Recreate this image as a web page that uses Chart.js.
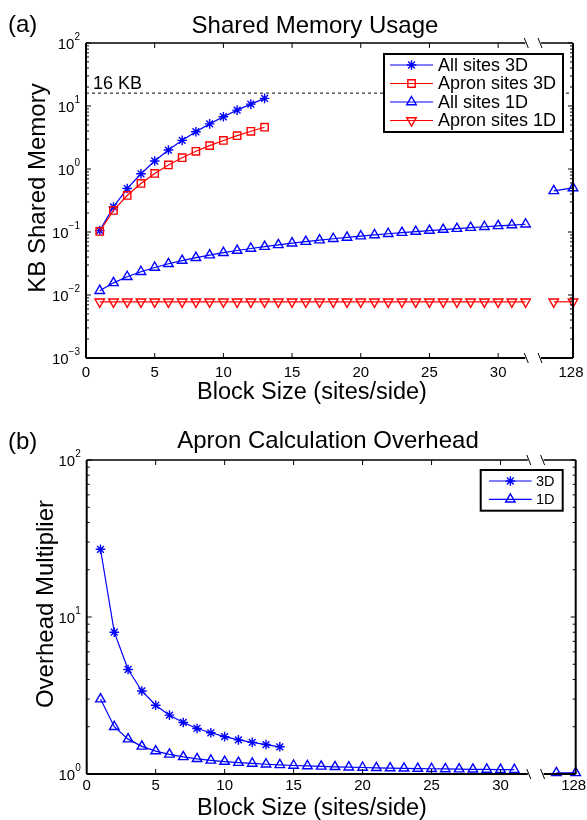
<!DOCTYPE html>
<html>
<head>
<meta charset="utf-8">
<script src="https://cdn.jsdelivr.net/npm/chart.js@4.4.1/dist/chart.umd.min.js"></script>
<style>
  body { margin: 0; background: #fff; }
  canvas { display: block; }
</style>
</head>
<body>
<canvas id="memChart" width="587" height="410"></canvas>
<canvas id="overheadChart" width="587" height="410"></canvas>
<script>
// (a) shared memory, KB
const memSizes3D = [1, 2, 3, 4, 5, 6, 7, 8, 9, 10, 11, 12, 13];
const memAll3D = [0.105, 0.25, 0.49, 0.84, 1.34, 2.0, 2.85, 3.9, 5.2, 6.75, 8.6, 10.7, 13.2];
const memApron3D = [0.102, 0.22, 0.38, 0.59, 0.85, 1.16, 1.51, 1.91, 2.35, 2.84, 3.38, 3.97, 4.6];
const memSizes1D = [1, 2, 3, 4, 5, 6, 7, 8, 9, 10, 11, 12, 13, 14, 15, 16,
  17, 18, 19, 20, 21, 22, 23, 24, 25, 26, 27, 28, 29, 30, 31, 32];
const memAll1D = [0.0117, 0.0156, 0.0195, 0.0234, 0.0273, 0.0313, 0.0352, 0.0391,
  0.043, 0.0469, 0.0508, 0.0547, 0.0586, 0.0625, 0.0664, 0.0703,
  0.0742, 0.0781, 0.082, 0.0859, 0.0898, 0.0938, 0.0977, 0.1016,
  0.1055, 0.1094, 0.1133, 0.1172, 0.1211, 0.125, 0.1289, 0.1328];
const memApron1D = [0.0078, 0.0078, 0.0078, 0.0078, 0.0078, 0.0078, 0.0078, 0.0078,
  0.0078, 0.0078, 0.0078, 0.0078, 0.0078, 0.0078, 0.0078, 0.0078,
  0.0078, 0.0078, 0.0078, 0.0078, 0.0078, 0.0078, 0.0078, 0.0078,
  0.0078, 0.0078, 0.0078, 0.0078, 0.0078, 0.0078, 0.0078, 0.0078];
const farSizes = [112, 128];
const memAll1DFar = [0.45, 0.5];
const memApron1DFar = [0.0078, 0.0078];
const sharedLimitKB = 16;

// (b) apron overhead multiplier
const ovhSizes3D = [1, 2, 3, 4, 5, 6, 7, 8, 9, 10, 11, 12, 13, 14];
const ovh3D = [27, 8, 4.63, 3.38, 2.74, 2.37, 2.13, 1.95, 1.83, 1.73, 1.65, 1.59, 1.54, 1.49];
const ovhSizes1D = [1, 2, 3, 4, 5, 6, 7, 8, 9, 10, 11, 12, 13, 14, 15, 16,
  17, 18, 19, 20, 21, 22, 23, 24, 25, 26, 27, 28, 29, 30, 31];
const ovh1D = [3, 2, 1.667, 1.5, 1.4, 1.333, 1.286, 1.25, 1.222, 1.2, 1.182, 1.167,
  1.154, 1.143, 1.133, 1.125, 1.118, 1.111, 1.105, 1.1, 1.095, 1.091, 1.087,
  1.083, 1.08, 1.077, 1.074, 1.071, 1.069, 1.067, 1.065];
const ovh1DFar = [1.018, 1.016];

const xTickValues = [0, 5, 10, 15, 20, 25, 30];
const xEndLabel = "128";

// broken x axis: 0..32 linear, then a short segment holding the large blocks
const FAR_FROM = 100, FAR_POS = 33.0, X_END = 35.45;
const BREAK_AT = [32.05, 33.05];

function axisX(size) {
  if (size <= 32) return size;
  return FAR_POS + (size - FAR_FROM) * (X_END - FAR_POS) / (128 - FAR_FROM);
}

function series(sizes, values) {
  return sizes.map((s, i) => ({ x: axisX(s), y: values[i] }));
}

const FONT = '"Liberation Sans", Arial, Helvetica, sans-serif';
const BLUE = "#0000ff";
const RED = "#ff0000";
const MARK_W = 1.4;

function markerSet(color, style, rotation, radius) {
  return {
    borderColor: color,
    pointBorderColor: color,
    pointBackgroundColor: "rgba(0,0,0,0)",
    pointStyle: style,
    pointRotation: rotation || 0,
    pointRadius: radius || 5.5,
    pointBorderWidth: MARK_W,
    borderWidth: 1.2,
    tension: 0,
    clip: false
  };
}

function drawSupLabel(ctx, exp, right, yMid) {
  const sup = exp < 0 ? "\u2212" + (-exp) : String(exp);
  ctx.font = "10px " + FONT;
  const ws = ctx.measureText(sup).width;
  ctx.font = "15px " + FONT;
  const wb = ctx.measureText("10").width;
  ctx.textAlign = "left";
  ctx.textBaseline = "alphabetic";
  ctx.fillText("10", right - ws - wb, yMid + 5.5);
  ctx.font = "10px " + FONT;
  ctx.fillText(sup, right - ws, yMid - 3);
}

function drawLegend(ctx, lg) {
  ctx.save();
  ctx.fillStyle = "#fff";
  ctx.fillRect(lg.box[0], lg.box[1], lg.box[2] - lg.box[0], lg.box[3] - lg.box[1]);
  ctx.strokeStyle = "#000";
  ctx.lineWidth = 2;
  ctx.strokeRect(lg.box[0], lg.box[1], lg.box[2] - lg.box[0], lg.box[3] - lg.box[1]);
  lg.items.forEach((it, i) => {
    const y = lg.rows[i];
    ctx.strokeStyle = it.color;
    ctx.lineWidth = 1.2;
    ctx.beginPath();
    ctx.moveTo(lg.line[0], y);
    ctx.lineTo(lg.line[1], y);
    ctx.stroke();
    ctx.fillStyle = "rgba(0,0,0,0)";
    ctx.lineWidth = MARK_W;
    Chart.helpers.drawPoint(ctx, {
      pointStyle: it.style, rotation: it.rotation || 0,
      radius: it.radius || 5.5, borderWidth: MARK_W
    }, (lg.line[0] + lg.line[1]) / 2, y);
    ctx.fillStyle = "#000";
    ctx.font = lg.font + "px " + FONT;
    ctx.textAlign = "left";
    ctx.textBaseline = "middle";
    ctx.fillText(it.label, lg.textX, y + 1);
  });
  ctx.restore();
}

const frame = {
  id: "frame",
  afterDraw(chart, args, o) {
    const ctx = chart.ctx;
    const a = chart.chartArea;
    const xs = chart.scales.x;
    const ys = chart.scales.y;
    const px = v => xs.getPixelForValue(v);
    const py = v => ys.getPixelForValue(v);
    const cut1 = px(BREAK_AT[0]);
    const cut2 = px(BREAK_AT[1]);

    ctx.save();
    ctx.strokeStyle = "#000";
    ctx.lineWidth = 2;
    ctx.beginPath();
    ctx.moveTo(a.left, a.top); ctx.lineTo(a.left, a.bottom);
    ctx.moveTo(a.right, a.top); ctx.lineTo(a.right, a.bottom);
    ctx.moveTo(a.left, a.bottom); ctx.lineTo(cut1 - 1, a.bottom);
    ctx.moveTo(cut2 + 1, a.bottom); ctx.lineTo(a.right, a.bottom);
    ctx.stroke();
    ctx.lineWidth = 1.5;
    ctx.beginPath();
    ctx.moveTo(a.left, a.top); ctx.lineTo(cut1 - 1, a.top);
    ctx.moveTo(cut2 + 1, a.top); ctx.lineTo(a.right, a.top);
    ctx.stroke();

    // break marks
    ctx.lineWidth = 1;
    ctx.beginPath();
    [a.top, a.bottom].forEach(yy => {
      [cut1, cut2].forEach(c => {
        ctx.moveTo(c - 2, yy - 5);
        ctx.lineTo(c + 2, yy + 5);
      });
    });
    ctx.stroke();

    // inward ticks
    ctx.lineWidth = 1;
    ctx.beginPath();
    xTickValues.slice(1).forEach(v => {
      const x = px(v);
      ctx.moveTo(x, a.bottom); ctx.lineTo(x, a.bottom - 5);
      ctx.moveTo(x, a.top); ctx.lineTo(x, a.top + 5);
    });
    for (let e = o.expMin; e <= o.expMax; e++) {
      const y = py(Math.pow(10, e));
      ctx.moveTo(a.left, y); ctx.lineTo(a.left + 5, y);
      ctx.moveTo(a.right, y); ctx.lineTo(a.right - 5, y);
      if (e < o.expMax) {
        for (let m = 2; m < 10; m++) {
          const ym = py(m * Math.pow(10, e));
          ctx.moveTo(a.left, ym); ctx.lineTo(a.left + 3, ym);
          ctx.moveTo(a.right, ym); ctx.lineTo(a.right - 3, ym);
        }
      }
    }
    ctx.stroke();

    // tick labels
    ctx.fillStyle = "#000";
    ctx.font = "15px " + FONT;
    ctx.textAlign = "center";
    ctx.textBaseline = "alphabetic";
    xTickValues.forEach(v => ctx.fillText(String(v), px(v), a.bottom + o.xLabelGap));
    ctx.fillText(xEndLabel, px(X_END) - 2, a.bottom + o.xLabelGap);
    for (let e = o.expMin; e <= o.expMax; e++) {
      drawSupLabel(ctx, e, a.left - 6, py(Math.pow(10, e)));
    }

    // titles
    ctx.font = "24px " + FONT;
    ctx.textAlign = "left";
    ctx.fillText(o.panel, 8, o.panelY);
    ctx.textAlign = "center";
    ctx.fillText(o.title, o.titleX, o.titleY);
    ctx.font = "23.5px " + FONT;
    ctx.fillText(o.xTitle, o.xTitleX, o.xTitleY);
    ctx.save();
    ctx.translate(o.yTitleX, o.yTitleY);
    ctx.rotate(-Math.PI / 2);
    ctx.font = "24px " + FONT;
    ctx.fillText(o.yTitle, 0, 0);
    ctx.restore();

    if (o.note) {
      ctx.font = "18px " + FONT;
      ctx.textAlign = "left";
      ctx.fillText(o.note.text, a.left + 7, py(o.note.value) - 4);
    }
    drawLegend(ctx, o.legend);
    ctx.restore();
  }
};

function makeChart(id, datasets, padding, yMin, yMax, deco) {
  return new Chart(document.getElementById(id), {
    type: "line",
    data: { datasets },
    options: {
      responsive: false,
      animation: false,
      devicePixelRatio: 1,
      events: [],
      layout: { padding },
      scales: {
        x: { type: "linear", min: 0, max: X_END, display: false },
        y: { type: "logarithmic", min: yMin, max: yMax, display: false }
      },
      plugins: {
        legend: { display: false },
        tooltip: { enabled: false },
        frame: deco
      }
    },
    plugins: [frame]
  });
}

makeChart("memChart", [
  {
    data: [{ x: 0, y: sharedLimitKB }, { x: X_END, y: sharedLimitKB }],
    borderColor: "#000", borderWidth: 1, borderDash: [3, 3], pointRadius: 0
  },
  Object.assign({ label: "Apron sites 1D", data: series(memSizes1D, memApron1D) }, markerSet(RED, "triangle", 180)),
  Object.assign({ data: series(farSizes, memApron1DFar) }, markerSet(RED, "triangle", 180)),
  Object.assign({ label: "All sites 1D", data: series(memSizes1D, memAll1D) }, markerSet(BLUE, "triangle")),
  Object.assign({ data: series(farSizes, memAll1DFar) }, markerSet(BLUE, "triangle")),
  Object.assign({ label: "Apron sites 3D", data: series(memSizes3D, memApron3D) }, markerSet(RED, "rect", 0, 5.2)),
  Object.assign({ label: "All sites 3D", data: series(memSizes3D, memAll3D) }, markerSet(BLUE, "star", 0, 4.8))
], { left: 86, right: 14, top: 43, bottom: 52 }, 0.001, 100, {
  expMin: -3, expMax: 2, xLabelGap: 19,
  panel: "(a)", panelY: 32,
  title: "Shared Memory Usage", titleX: 315, titleY: 33,
  xTitle: "Block Size (sites/side)", xTitleX: 312, xTitleY: 399,
  yTitle: "KB Shared Memory", yTitleX: 45, yTitleY: 188,
  note: { text: "16 KB", value: sharedLimitKB },
  legend: {
    box: [384, 54, 563, 132], rows: [65, 83.5, 102, 120.5],
    line: [390, 433], textX: 438, font: 18,
    items: [
      { label: "All sites 3D", color: BLUE, style: "star", radius: 4.8 },
      { label: "Apron sites 3D", color: RED, style: "rect", radius: 5.2 },
      { label: "All sites 1D", color: BLUE, style: "triangle" },
      { label: "Apron sites 1D", color: RED, style: "triangle", rotation: 180 }
    ]
  }
});

makeChart("overheadChart", [
  Object.assign({ label: "1D", data: series(ovhSizes1D, ovh1D) }, markerSet(BLUE, "triangle")),
  Object.assign({ data: series(farSizes, ovh1DFar) }, markerSet(BLUE, "triangle")),
  Object.assign({ label: "3D", data: series(ovhSizes3D, ovh3D) }, markerSet(BLUE, "star", 0, 4.8))
], { left: 86.7, right: 11.3, top: 50, bottom: 46 }, 1, 100, {
  expMin: 0, expMax: 2, xLabelGap: 16,
  panel: "(b)", panelY: 39,
  title: "Apron Calculation Overhead", titleX: 328, titleY: 38,
  xTitle: "Block Size (sites/side)", xTitleX: 312, xTitleY: 405,
  yTitle: "Overhead Multiplier", yTitleX: 53, yTitleY: 194,
  legend: {
    box: [480.7, 60, 562.7, 100.7], rows: [71, 89.3],
    line: [489, 531.7], textX: 536, font: 14.5,
    items: [
      { label: "3D", color: BLUE, style: "star", radius: 4.8 },
      { label: "1D", color: BLUE, style: "triangle" }
    ]
  }
});
</script>
</body>
</html>
